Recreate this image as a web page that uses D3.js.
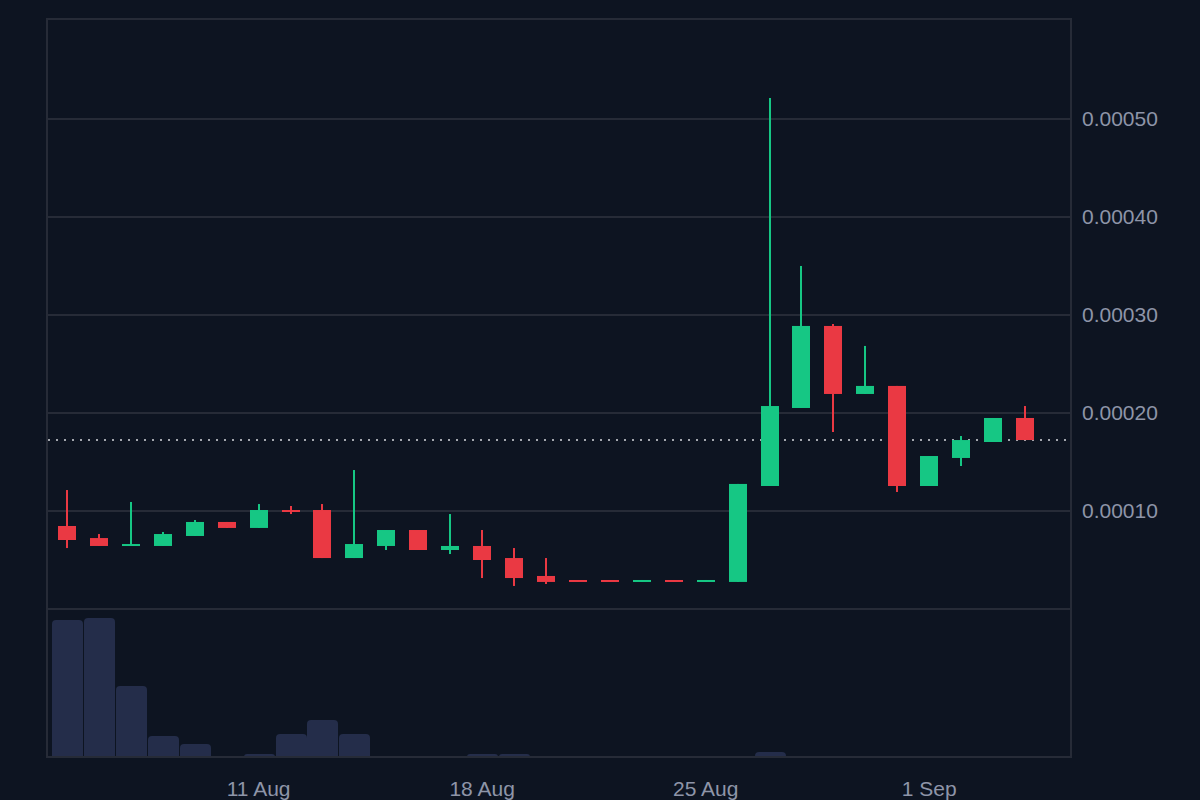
<!DOCTYPE html>
<html>
<head>
<meta charset="utf-8">
<script src="https://cdn.jsdelivr.net/npm/d3@7"></script>
<style>
  html, body { margin: 0; padding: 0; background: #0d1421; }
  #chart { width: 1200px; height: 800px; }
</style>
</head>
<body>
<div id="chart"></div>
<script>
// Datos diarios (apertura, máximo, mínimo, cierre y volumen).
const dates = [
  "2024-08-05", "2024-08-06", "2024-08-07", "2024-08-08", "2024-08-09", "2024-08-10",
  "2024-08-11", "2024-08-12", "2024-08-13", "2024-08-14", "2024-08-15", "2024-08-16",
  "2024-08-17", "2024-08-18", "2024-08-19", "2024-08-20", "2024-08-21", "2024-08-22",
  "2024-08-23", "2024-08-24", "2024-08-25", "2024-08-26", "2024-08-27", "2024-08-28",
  "2024-08-29", "2024-08-30", "2024-08-31", "2024-09-01", "2024-09-02", "2024-09-03",
  "2024-09-04"
];
const opens = [
  0.0000847, 0.0000724, 0.0000643, 0.0000643, 0.0000745, 0.0000888,
  0.0000827, 0.0001010, 0.0001010, 0.0000520, 0.0000643, 0.0000806,
  0.0000602, 0.0000643, 0.0000520, 0.0000337, 0.0000296, 0.0000296,
  0.0000276, 0.0000296, 0.0000276, 0.0000276, 0.0001255, 0.0002051,
  0.0002888, 0.0002194, 0.0002276, 0.0001255, 0.0001541, 0.0001704,
  0.0001949
];
const highs = [
  0.0001214, 0.0000765, 0.0001092, 0.0000786, 0.0000908, 0.0000888,
  0.0001071, 0.0001051, 0.0001071, 0.0001418, 0.0000806, 0.0000806,
  0.0000969, 0.0000806, 0.0000622, 0.0000520, 0.0000296, 0.0000296,
  0.0000296, 0.0000296, 0.0000296, 0.0001276, 0.0005214, 0.0003500,
  0.0002908, 0.0002684, 0.0002276, 0.0001561, 0.0001765, 0.0001949,
  0.0002071
];
const lows = [
  0.0000622, 0.0000643, 0.0000643, 0.0000643, 0.0000745, 0.0000827,
  0.0000827, 0.0000969, 0.0000520, 0.0000520, 0.0000602, 0.0000602,
  0.0000561, 0.0000316, 0.0000235, 0.0000255, 0.0000276, 0.0000276,
  0.0000276, 0.0000276, 0.0000276, 0.0000276, 0.0001255, 0.0002051,
  0.0001806, 0.0002194, 0.0001194, 0.0001255, 0.0001459, 0.0001704,
  0.0001724
];
const closes = [
  0.0000704, 0.0000643, 0.0000663, 0.0000765, 0.0000888, 0.0000827,
  0.0001010, 0.0000990, 0.0000520, 0.0000663, 0.0000806, 0.0000602,
  0.0000643, 0.0000500, 0.0000316, 0.0000276, 0.0000276, 0.0000276,
  0.0000296, 0.0000276, 0.0000296, 0.0001276, 0.0002071, 0.0002888,
  0.0002194, 0.0002276, 0.0001255, 0.0001561, 0.0001724, 0.0001949,
  0.0001724
];
const volumes = [
  1370, 1390, 710, 210, 130, 0,
  30, 230, 370, 230, 0, 0,
  0, 30, 30, 0, 0, 0,
  0, 0, 0, 0, 50, 0,
  0, 0, 0, 0, 0, 0,
  0
];
const priceTicks = [0.0001, 0.0002, 0.0003, 0.0004, 0.0005];

// Colores
const bg = "#0d1421";
const lineColor = "#262b37";
const textColor = "#8e95a8";
const upColor = "#16c784";
const downColor = "#ea3943";
const volColor = "#242d4a";

// Dimensiones del área de trazado
const width = 1200;
const height = 800;
const plotLeft = 47, plotRight = 1071, plotTop = 19, plotSplit = 609, plotBottom = 757;

const parse = d3.utcParse("%Y-%m-%d");
const data = dates.map((d, i) => ({
  date: parse(d), o: opens[i], h: highs[i], l: lows[i], c: closes[i], v: volumes[i]
}));

// Escala de tiempo: margen de ~0.63 días a la izquierda y ~1.44 a la derecha
const day = 24 * 3600 * 1000;
const x = d3.scaleUtc()
  .domain([new Date(+data[0].date - 0.626 * day), new Date(+data[data.length - 1].date + 1.44 * day)])
  .range([plotLeft, plotRight]);

const y = d3.scaleLinear().domain([0, 0.000602]).range([plotSplit, plotTop]);
const yVol = d3.scaleLinear().domain([0, d3.max(volumes) * 1.065]).range([plotBottom, plotSplit]);

const svg = d3.select("#chart").append("svg")
  .attr("width", width)
  .attr("height", height)
  .attr("viewBox", [0, 0, width, height])
  .style("font-family", "'Liberation Sans', Arial, sans-serif");

svg.append("rect").attr("width", width).attr("height", height).attr("fill", bg);

// Líneas de la cuadrícula (precio)
svg.append("g")
  .selectAll("line")
  .data(priceTicks)
  .join("line")
  .attr("x1", plotLeft).attr("x2", plotRight)
  .attr("y1", d => y(d)).attr("y2", d => y(d))
  .attr("stroke", lineColor)
  .attr("stroke-width", 2);

// Etiquetas del eje de precios a la derecha
svg.append("g")
  .attr("fill", textColor)
  .attr("font-size", 21)
  .selectAll("text")
  .data(priceTicks)
  .join("text")
  .attr("x", plotRight + 11)
  .attr("y", d => y(d) + 7.5)
  .text(d => d3.format(".5f")(d));

// Barras de volumen (esquinas superiores redondeadas)
const bw = 31, rad = 4;
function volPath(d) {
  const x0 = Math.round(x(d.date)) - bw / 2 + 0.5, x1 = x0 + bw;
  const y0 = yVol(d.v), y1 = plotBottom;
  const rr = Math.min(rad, (y1 - y0));
  return `M${x0},${y1}V${y0 + rr}Q${x0},${y0} ${x0 + rr},${y0}H${x1 - rr}Q${x1},${y0} ${x1},${y0 + rr}V${y1}Z`;
}
svg.append("g")
  .attr("fill", volColor)
  .selectAll("path")
  .data(data.filter(d => d.v > 0))
  .join("path")
  .attr("d", volPath);

// Línea punteada del último cierre
const last = data[data.length - 1].c;
svg.append("line")
  .attr("x1", plotLeft + 1).attr("x2", plotRight - 1)
  .attr("y1", y(last)).attr("y2", y(last))
  .attr("stroke", "#a3a7ae")
  .attr("stroke-width", 2)
  .attr("stroke-dasharray", "2,6");

// Velas
const candle = svg.append("g")
  .selectAll("g")
  .data(data)
  .join("g")
  .attr("fill", d => d.c >= d.o ? upColor : downColor);

candle.append("rect")
  .attr("x", d => Math.round(x(d.date)) - 1)
  .attr("width", 2)
  .attr("y", d => y(d.h))
  .attr("height", d => y(d.l) - y(d.h));

candle.append("rect")
  .attr("x", d => Math.round(x(d.date)) - 9)
  .attr("width", 18)
  .attr("y", d => y(Math.max(d.o, d.c)))
  .attr("height", d => Math.max(2, Math.abs(y(d.o) - y(d.c))));

// Marco y separador de paneles
svg.append("rect")
  .attr("x", plotLeft).attr("y", plotTop)
  .attr("width", plotRight - plotLeft).attr("height", plotBottom - plotTop)
  .attr("fill", "none")
  .attr("stroke", lineColor)
  .attr("stroke-width", 2);

svg.append("line")
  .attr("x1", plotLeft).attr("x2", plotRight)
  .attr("y1", plotSplit).attr("y2", plotSplit)
  .attr("stroke", lineColor)
  .attr("stroke-width", 2);

// Eje de fechas (domingos)
const xTicks = x.ticks(d3.utcSunday);
svg.append("g")
  .attr("fill", textColor)
  .attr("font-size", 21)
  .attr("text-anchor", "middle")
  .selectAll("text")
  .data(xTicks)
  .join("text")
  .attr("x", d => x(d))
  .attr("y", 796)
  .text(d3.utcFormat("%-d %b"));
</script>
</body>
</html>
